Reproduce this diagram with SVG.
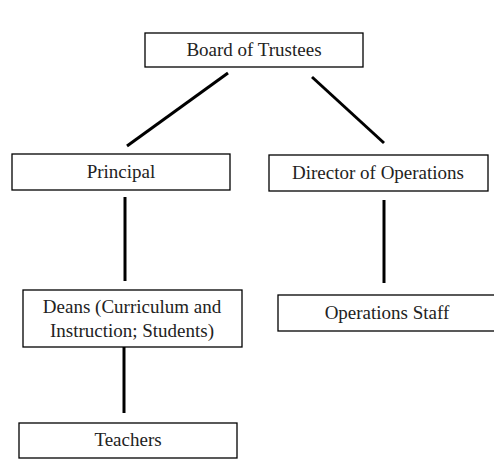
<svg xmlns="http://www.w3.org/2000/svg" width="494" height="464" viewBox="0 0 494 464">
<style>
.box{fill:#fff;stroke:#000;stroke-width:1.3}
.t{font-family:"Liberation Serif","Times New Roman",serif;font-size:19px;fill:#222;text-anchor:middle}
.c{stroke:#000;stroke-width:3;fill:none}
</style>
<rect width="494" height="464" fill="#fff"/>
<g id="connectors">
<line class="c" x1="228" y1="73" x2="127" y2="146"/>
<line class="c" x1="312" y1="77" x2="384" y2="143"/>
<line class="c" x1="125" y1="197" x2="125" y2="281"/>
<line class="c" x1="384" y1="200" x2="384" y2="283"/>
<line class="c" x1="124" y1="347" x2="124" y2="413"/>
</g>
<g id="board"><rect class="box" x="145" y="33" width="218" height="34"/><text class="t" x="254" y="56">Board of Trustees</text></g>
<g id="principal"><rect class="box" x="12" y="154" width="218" height="36"/><text class="t" x="121" y="178">Principal</text></g>
<g id="director"><rect class="box" x="269" y="155" width="219" height="36"/><text class="t" x="378" y="179">Director of Operations</text></g>
<g id="deans"><rect class="box" x="23" y="290" width="219" height="57"/><text class="t" x="132" y="313">Deans (Curriculum and</text><text class="t" x="132" y="337">Instruction; Students)</text></g>
<g id="opsstaff"><rect class="box" x="278" y="295" width="220" height="36"/><text class="t" x="387" y="319">Operations Staff</text></g>
<g id="teachers"><rect class="box" x="19" y="423" width="218" height="35"/><text class="t" x="128" y="446">Teachers</text></g>
</svg>
